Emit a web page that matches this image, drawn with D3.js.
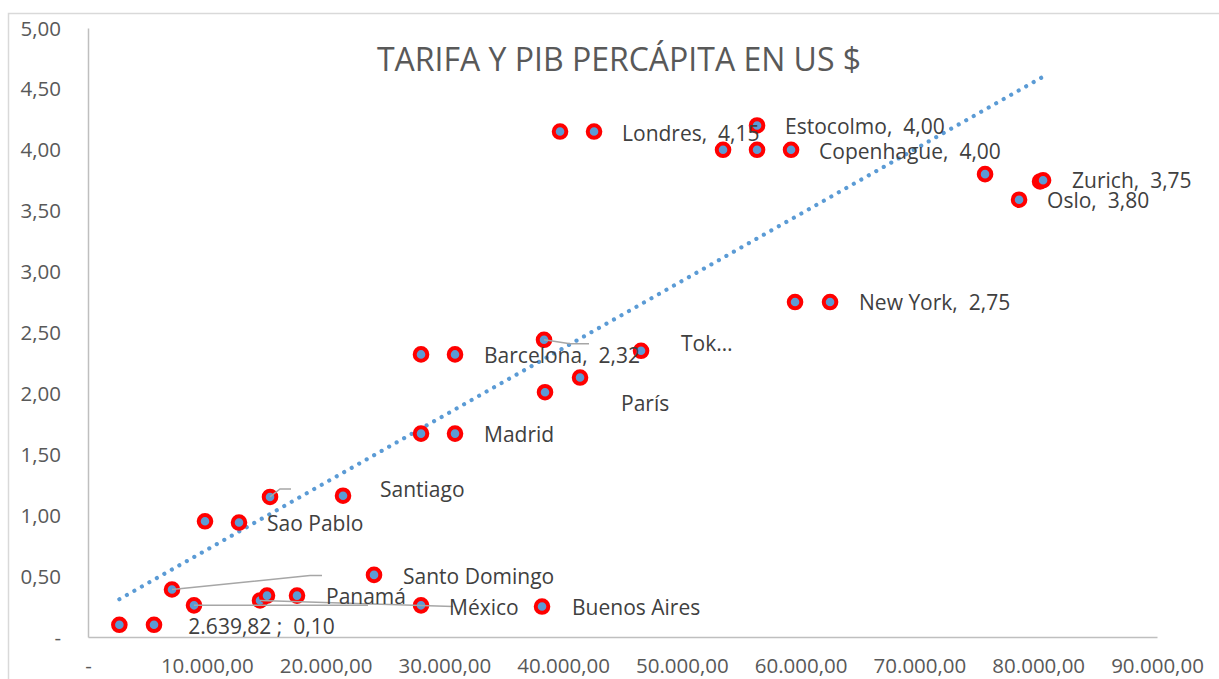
<!DOCTYPE html>
<html><head><meta charset="utf-8">
<script src="https://cdn.jsdelivr.net/npm/d3@7"></script>
<style>
body{margin:0;background:#fff}
svg{display:block}
text{font-family:"Open Sans",sans-serif}
</style>
</head><body>
<svg id="chart" width="1219" height="679"></svg>
<script>
// ---------- data ----------
const chartTitle = "TARIFA Y PIB PERCÁPITA EN US $";
const gdpPerCapita = [2639.82, 5557, 7072, 8925, 9851, 12714, 14482, 15071, 15324, 17597,
  21470, 24080, 28037, 28037, 28037, 30900, 30900, 38393, 38477, 38225,
  39741, 41425, 42604, 46561, 53465, 56328, 56328, 59190, 59527, 62474,
  75524, 78387, 80155, 80408];
const fare = [0.10, 0.10, 0.39, 0.26, 0.95, 0.94, 0.30, 0.34, 1.15, 0.34,
  1.16, 0.51, 2.32, 1.67, 0.26, 2.32, 1.67, 2.44, 2.01, 0.25,
  4.15, 2.13, 4.15, 2.35, 4.00, 4.20, 4.00, 4.00, 2.75, 2.75,
  3.80, 3.59, 3.74, 3.75];
const xTickValues = [0, 10000, 20000, 30000, 40000, 50000, 60000, 70000, 80000, 90000];
const yTickValues = [0, 0.5, 1, 1.5, 2, 2.5, 3, 3.5, 4, 4.5, 5];
const labelText = ["2.639,82 ;  0,10", "Sao Pablo", "Santiago", "Santo Domingo", "Panamá",
  "México", "Buenos Aires", "Madrid", "Barcelona,  2,32", "París", "Tok…",
  "Londres,  4,15", "Estocolmo,  4,00", "Copenhague,  4,00", "New York,  2,75",
  "Zurich,  3,75", "Oslo,  3,80"];
const labelPoint = [0, 5, 10, 11, 9, 14, 19, 16, 15, 21, 23, 22, 25, 27, 29, 33, 31];
const trendX = [2639.82, 80408];
const trendY = [0.31, 4.60];
const leaderPoint = [2, 3, 6, 17, 8];

// ---------- layout ----------
const labelOffset = [[69,2],[28,1],[37,-6],[29,2],[29,1],[28,2],[30,1],[29,1],[29,1],[41,26],[40,-7],
  [28,2],[28,1],[28,2],[29,1],[29,0],[28,1]];
const leaderPath = [
  [[0,0],[138,-14],[150,-14]],
  [[0,0],[174,0]],
  [[0,0],[193,6]],
  [[0,0],[26,4],[45,4]],
  [[0,0],[10,-8],[21,-8]]
];

const svg = d3.select("#chart");
const textCol = "#595959", labelCol = "#404040", axisCol = "#BFBFBF";
const FS = 20.5;

const x = d3.scaleLinear().domain([0, 90000]).range([88, 1157]);
const y = d3.scaleLinear().domain([0, 5]).range([637, 28]);

const loc = d3.formatLocale({decimal: ",", thousands: ".", grouping: [3], currency: ["", ""]});
const fmtX = v => v === 0 ? "-" : loc.format(",.2f")(v);
const fmtY = v => v === 0 ? "-" : loc.format(".2f")(v);

// chart border
svg.append("rect").attr("x", 8.5).attr("y", 13.5).attr("width", 1230).attr("height", 700)
  .attr("fill", "#fff").attr("stroke", "#D9D9D9").attr("stroke-width", 1.5);

// title
svg.append("text").attr("x", 619).attr("y", 71).attr("text-anchor", "middle")
  .attr("font-size", 32).attr("fill", textCol).text(chartTitle);

// axes
const xAxis = d3.axisBottom(x).tickValues(xTickValues).tickFormat(fmtX).tickSize(0).tickPadding(0);
const gx = svg.append("g").attr("transform", "translate(0,637)").call(xAxis);
gx.select(".domain").attr("stroke", axisCol).attr("stroke-width", 1.5);
gx.selectAll("text").attr("font-size", FS).attr("fill", textCol)
  .attr("dy", null).attr("y", 36).style("font-family", '"Open Sans",sans-serif');

const yAxis = d3.axisLeft(y).tickValues(yTickValues).tickFormat(fmtY).tickSize(0).tickPadding(27);
const gy = svg.append("g").attr("transform", "translate(88,0)").call(yAxis);
gy.select(".domain").attr("stroke", axisCol).attr("stroke-width", 1.5);
gy.selectAll("text").attr("font-size", FS).attr("fill", textCol)
  .attr("dy", null).attr("y", 7).style("font-family", '"Open Sans",sans-serif');

// trendline (dotted)
const trendData = trendX.map((v, i) => [v, trendY[i]]);
svg.append("path").datum(trendData)
  .attr("d", d3.line().x(d => x(d[0])).y(d => y(d[1])))
  .attr("fill", "none").attr("stroke", "#5B9BD5").attr("stroke-width", 4.2)
  .attr("stroke-linecap", "round").attr("stroke-dasharray", "0.01 8.6");

// markers
const pts = gdpPerCapita.map((v, i) => ({gx: v, f: fare[i]}));
svg.append("g").selectAll("circle").data(pts).join("circle")
  .attr("cx", d => x(d.gx)).attr("cy", d => y(d.f)).attr("r", 6.3)
  .attr("fill", "#5B9BD5").attr("stroke", "#FF0000").attr("stroke-width", 4);

// leader lines
svg.append("g").selectAll("path").data(leaderPoint).join("path")
  .attr("d", (p, i) => {
    const px = x(gdpPerCapita[p]), py = y(fare[p]);
    return d3.line()(leaderPath[i].map(o => [px + o[0], py + o[1]]));
  })
  .attr("fill", "none").attr("stroke", "#A6A6A6").attr("stroke-width", 1.5);

// data labels
svg.append("g").selectAll("text").data(labelText).join("text")
  .attr("x", (t, i) => x(gdpPerCapita[labelPoint[i]]) + labelOffset[i][0])
  .attr("y", (t, i) => y(fare[labelPoint[i]]) + labelOffset[i][1] + 7.3)
  .attr("font-size", 21).attr("fill", labelCol).style("white-space", "pre")
  .text(t => t);
</script>
</body></html>
